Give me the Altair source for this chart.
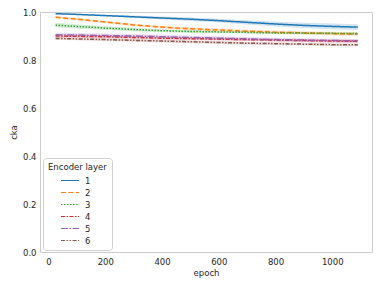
import altair as alt
import pandas as pd

epochs = [25, 100, 200, 300, 400, 500, 600, 700, 800, 900, 1000, 1090]
layers = ["1", "2", "3", "4", "5", "6"]
cka_1 = [0.993, 0.990, 0.985, 0.980, 0.975, 0.970, 0.964, 0.957, 0.950, 0.944, 0.940, 0.937]
cka_2 = [0.978, 0.970, 0.958, 0.946, 0.937, 0.930, 0.925, 0.920, 0.916, 0.913, 0.910, 0.908]
cka_3 = [0.945, 0.940, 0.933, 0.927, 0.922, 0.919, 0.917, 0.915, 0.913, 0.912, 0.911, 0.910]
cka_4 = [0.900, 0.899, 0.897, 0.894, 0.891, 0.889, 0.887, 0.885, 0.883, 0.881, 0.879, 0.878]
cka_5 = [0.905, 0.904, 0.902, 0.900, 0.897, 0.894, 0.891, 0.888, 0.885, 0.883, 0.881, 0.880]
cka_6 = [0.890, 0.888, 0.885, 0.882, 0.879, 0.876, 0.873, 0.870, 0.868, 0.866, 0.864, 0.863]
err_1 = [0.003, 0.003, 0.004, 0.005, 0.006, 0.007, 0.008, 0.009, 0.010, 0.011, 0.012, 0.012]
err_2 = [0.005, 0.005, 0.005, 0.005, 0.005, 0.006, 0.006, 0.006, 0.007, 0.007, 0.008, 0.008]
err_3 = [0.010, 0.009, 0.008, 0.007, 0.006, 0.006, 0.005, 0.005, 0.005, 0.005, 0.005, 0.005]
err_4 = [0.006, 0.006, 0.006, 0.006, 0.006, 0.006, 0.006, 0.006, 0.006, 0.006, 0.006, 0.006]
err_5 = [0.008, 0.008, 0.008, 0.008, 0.008, 0.008, 0.008, 0.008, 0.008, 0.008, 0.008, 0.008]
err_6 = [0.006, 0.006, 0.006, 0.006, 0.006, 0.006, 0.006, 0.006, 0.006, 0.006, 0.006, 0.006]

series = [cka_1, cka_2, cka_3, cka_4, cka_5, cka_6]
errs = [err_1, err_2, err_3, err_4, err_5, err_6]

rows = []
for lay, vals, er in zip(layers, series, errs):
    for e, v, d in zip(epochs, vals, er):
        rows.append({"epoch": e, "cka": v, "lo": v - d, "hi": v + d, "layer": lay})
df = pd.DataFrame(rows)

colors = ["#1f77b4", "#ff7f0e", "#2ca02c", "#d62728", "#9467bd", "#8c564b"]
dashes = [[1, 0], [5, 2.5], [1.5, 1.5], [4, 1.5, 1.5, 1.5], [7, 1.5, 1.5, 1.5], [4, 1.5, 1.5, 1.5, 1.5, 1.5]]

xscale = alt.Scale(domain=[-30, 1140], nice=False, zero=False)
yscale = alt.Scale(domain=[0, 1])
cscale = alt.Scale(domain=layers, range=colors)
dscale = alt.Scale(domain=layers, range=dashes)

leg = alt.Legend(orient="none", legendX=3, legendY=146,
                 symbolType="M-1.5,0H1.5", symbolSize=144,
                 symbolStrokeWidth=1.2, symbolOpacity=1, symbolFillColor="transparent",
                 rowPadding=0, labelOffset=8, symbolOffset=15,
                 fillColor="white", strokeColor="#d0d0d0",
                 cornerRadius=3, padding=5,
                 titleFontWeight="normal", titleFontSize=8.5,
                 labelFontSize=8.5, titleColor="#262626",
                 labelColor="#262626", titlePadding=2)

base = alt.Chart(df)

line = base.mark_line(strokeWidth=1.5).encode(
    x=alt.X("epoch:Q", scale=xscale, title="epoch",
            axis=alt.Axis(values=[0, 200, 400, 600, 800, 1000], format="d", grid=False, ticks=False,
                          labelPadding=5, titlePadding=3, domain=False)),
    y=alt.Y("cka:Q", scale=yscale, title="cka",
            axis=alt.Axis(values=[0, 0.2, 0.4, 0.6, 0.8, 1.0], format=".1f", grid=False,
                          ticks=False, labelPadding=4, titlePadding=4, domain=False)),
    color=alt.Color("layer:N", scale=cscale, title="Encoder layer", legend=leg),
    strokeDash=alt.StrokeDash("layer:N", scale=dscale, title="Encoder layer", legend=leg),
)

band = base.mark_area(opacity=0.2).encode(
    x=alt.X("epoch:Q", scale=xscale),
    y=alt.Y("lo:Q", scale=yscale),
    y2="hi:Q",
    color=alt.Color("layer:N", scale=cscale, title="Encoder layer", legend=leg),
)

chart = alt.layer(line, band).properties(
    width=332, height=240,
    autosize=alt.AutoSizeParams(type="none"),
    padding={"left": 32, "top": 4, "right": 1, "bottom": 26},
).configure_view(
    stroke="#cccccc", strokeWidth=1
).configure_axis(
    labelFont="DejaVu Sans", titleFont="DejaVu Sans", labelFontSize=8.5, titleFontSize=8.5,
    labelColor="#262626", titleColor="#262626", titleFontWeight="normal"
).configure_legend(
    labelFont="DejaVu Sans", titleFont="DejaVu Sans"
)

chart.save("out.html", embed_options={"renderer": "svg", "actions": False})
